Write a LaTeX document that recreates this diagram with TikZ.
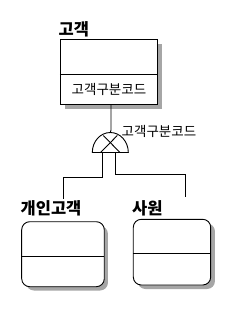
\documentclass[tikz,border=0pt]{standalone}
\usepackage{fontspec}
\newfontfamily\kr{Noto Sans CJK KR}
\begin{document}
\begin{tikzpicture}[x=1pt,y=-1pt,
  ent/.style={draw=black,line width=0.9pt,fill=white},
  shadowbox/.style={fill=gray!70,draw=none},
  conn/.style={draw=black,line width=0.9pt},
  title/.style={font=\kr\bfseries\fontsize{16.5}{16.5}\selectfont,inner sep=0pt,anchor=south west},
  attr/.style={font=\kr\fontsize{13.5}{13.5}\selectfont,inner sep=0pt}]
\useasboundingbox (0,0) rectangle (237,309);
% top entity
\fill[shadowbox] (65,44) rectangle (162,109);
\draw[ent] (60,39.3) rectangle (157.3,104.3);
\draw[conn] (60,74.3) -- (157.3,74.3);
\node[title] (t1) at (58.5,37) {고객};
\node[attr] (a1) at (109,89) {고객구분코드};
\coordinate (topb) at (111,104.3);
% gate
\coordinate (gtop) at (110.3,132.5);
\coordinate (gl) at (92.3,152.5);
\coordinate (gr) at (128.3,152.5);
\draw[conn] (topb) -- (111,130) -- (gtop);
\draw[conn,fill=white] (gl) arc[start angle=180,end angle=360,x radius=18,y radius=20] -- cycle;
\draw[conn] (103.3,135.5) -- (120,152.5);
\draw[conn] (117.3,135.5) -- (100.6,152.5);
\node[attr,anchor=south west] (g1) at (121.5,138) {고객구분코드};
% branches
\coordinate (b1) at (102.7,152.5);
\coordinate (b2) at (115,152.5);
\coordinate (c1) at (63.3,199);
\coordinate (c2) at (185,196.7);
\draw[conn] (b1) -- (102.7,177.7) -| (c1);
\draw[conn] (b2) -- (115,174) -| (c2);
% children
\node[title] (t2) at (20.5,216) {개인고객};
\node[title] (t3) at (132,216) {사원};
\fill[shadowbox,rounded corners=8pt] (26,226) rectangle (108,290.5);
\draw[ent,rounded corners=8pt] (21.7,221.7) rectangle (104.3,286.7);
\draw[conn] (21.7,256) -- (104.3,256);
\fill[shadowbox,rounded corners=8pt] (137.5,223.5) rectangle (215,289);
\draw[ent,rounded corners=8pt] (133.3,219.3) rectangle (210.7,285);
\draw[conn] (133.3,253.3) -- (210.7,253.3);
\end{tikzpicture}
\end{document}
